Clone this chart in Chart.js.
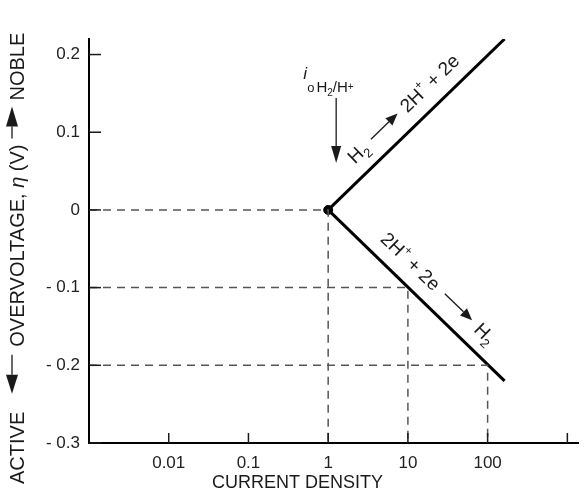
<!DOCTYPE html>
<html lang="en">
<head>
  <meta charset="UTF-8">
  <title>Overvoltage vs current density</title>
  <style>
    body { margin: 0; background: #fff; }
    #wrap { width: 584px; height: 495px; }
  </style>
  <script src="https://cdn.jsdelivr.net/npm/chart.js"></script>
</head>
<body>
  <div id="wrap"><canvas id="chart"></canvas></div>

  <script>
    // data
    var currentDensity = [1, 163];
    var anodicEta = [0, 0.22];     // H2 -> 2H+ + 2e
    var cathodicEta = [0, -0.22];  // 2H+ + 2e -> H2
    var exchangeCurrent = [1];
    var exchangeEta = [0];
    var guideCurrents = [1, 10, 100];
    var guideEta = [0, -0.1, -0.2];
    var xTicks = [0.01, 0.1, 1, 10, 100, 1000];
    var xTickLabels = ['0.01', '0.1', '1', '10', '100', ''];
    var yTicks = [0.2, 0.1, 0, -0.1, -0.2, -0.3];
    var yTickLabels = ['0.2', '0.1', '0', '- 0.1', '- 0.2', '- 0.3'];
    var xMin = 0.001, xMax = 1380, yMin = -0.3, yMax = 0.22;

    var FONT = '"Liberation Sans", Arial, Helvetica, sans-serif';
    var INK = '#1a1a1a';

    function pts(xs, ys) {
      return xs.map(function (x, i) { return { x: x, y: ys[i] }; });
    }

    var datasets = [];
    guideCurrents.forEach(function (c, i) {
      datasets.push({
        data: pts([xMin, c, c], [guideEta[i], guideEta[i], yMin]),
        showLine: true, borderColor: '#555', borderWidth: 1.5,
        borderDash: [8, 6], pointRadius: 0, fill: false
      });
    });
    datasets.push({
      data: pts(currentDensity, anodicEta),
      showLine: true, borderColor: '#000', borderWidth: 3, pointRadius: 0
    });
    datasets.push({
      data: pts(currentDensity, cathodicEta),
      showLine: true, borderColor: '#000', borderWidth: 3, pointRadius: 0
    });
    datasets.push({
      data: pts(exchangeCurrent, exchangeEta),
      showLine: false, pointRadius: 4.5, pointBackgroundColor: '#000',
      pointBorderColor: '#000'
    });

    // draws text pieces one after another along the current baseline
    function run(ctx, parts, x, y) {
      parts.forEach(function (p) {
        if (p.arrow) {
          var len = p.arrow, hl = p.head || 10, hw = p.hw || 4, ay = y + (p.dy || -6);
          ctx.beginPath();
          if (p.left) {
            ctx.moveTo(x + hl, ay); ctx.lineTo(x + len, ay);
          } else {
            ctx.moveTo(x, ay); ctx.lineTo(x + len - hl, ay);
          }
          ctx.lineWidth = p.lw || 1.3; ctx.strokeStyle = INK; ctx.stroke();
          ctx.beginPath();
          if (p.left) {
            ctx.moveTo(x, ay); ctx.lineTo(x + hl, ay - hw); ctx.lineTo(x + hl, ay + hw);
          } else {
            ctx.moveTo(x + len, ay); ctx.lineTo(x + len - hl, ay - hw); ctx.lineTo(x + len - hl, ay + hw);
          }
          ctx.closePath(); ctx.fillStyle = INK; ctx.fill();
          x += len;
        } else if (p.gap) {
          x += p.gap;
        } else {
          ctx.font = (p.style || '') + ' ' + p.f + 'px ' + FONT;
          ctx.fillStyle = INK;
          ctx.fillText(p.t, x, y + (p.dy || 0));
          x += ctx.measureText(p.t).width;
        }
      });
      return x;
    }

    var notes = {
      id: 'notes',
      afterDraw: function (chart) {
        var ctx = chart.ctx, xs = chart.scales.x, ys = chart.scales.y, a = chart.chartArea;
        ctx.save();

        // small inward tick marks
        ctx.strokeStyle = INK; ctx.lineWidth = 1.5;
        yTicks.forEach(function (v) {
          var py = ys.getPixelForValue(v);
          ctx.beginPath(); ctx.moveTo(a.left, py); ctx.lineTo(a.left + 12, py); ctx.stroke();
        });
        xTicks.forEach(function (v) {
          var px = xs.getPixelForValue(v);
          ctx.beginPath(); ctx.moveTo(px, a.bottom); ctx.lineTo(px, a.bottom - 10); ctx.stroke();
        });

        ctx.textBaseline = 'alphabetic';
        ctx.textAlign = 'left';

        var p0x = xs.getPixelForValue(currentDensity[0]);
        var p0y = ys.getPixelForValue(anodicEta[0]);

        // reaction labels along the two lines
        [[anodicEta, 51, [
          { t: 'H', f: 19 }, { t: '2', f: 13, dy: 5 }, { gap: 8 },
          { arrow: 37, head: 12, hw: 5, dy: -7 }, { gap: 7 },
          { t: '2H', f: 19 }, { t: '+', f: 12, dy: -9 }, { t: ' + 2e', f: 19 }
        ]], [cathodicEta, 58, [
          { t: '2H', f: 19 }, { t: '+', f: 12, dy: -9 }, { t: ' + 2e', f: 19 }, { gap: 10 },
          { arrow: 38, head: 12, hw: 5, dy: -7 }, { gap: 8 },
          { t: 'H', f: 19 }, { t: '2', f: 13, dy: 5 }
        ]]].forEach(function (item) {
          var p1x = xs.getPixelForValue(currentDensity[1]);
          var p1y = ys.getPixelForValue(item[0][1]);
          ctx.save();
          ctx.translate(p0x, p0y);
          ctx.rotate(Math.atan2(p1y - p0y, p1x - p0x));
          run(ctx, item[2], item[1], -14);
          ctx.restore();
        });

        // exchange current density label and arrow
        run(ctx, [{ t: 'i', f: 17, style: 'italic' }], p0x - 25, 79);
        run(ctx, [{ t: 'o', f: 13 }, { gap: 2 }, { t: 'H', f: 15 }, { t: '2', f: 10, dy: 4 },
                  { t: '/H', f: 15 }, { t: '+', f: 10, dy: -2 }], p0x - 21, 92);
        ctx.save();
        ctx.translate(p0x + 2, p0y - 112);
        ctx.rotate(Math.PI / 2);
        run(ctx, [{ arrow: 65, head: 17, hw: 5, dy: 0, lw: 1.3 }], 0, 0);
        ctx.restore();

        // x axis title
        ctx.textBaseline = 'middle';
        run(ctx, [{ t: 'CURRENT DENSITY', f: 18 }], a.left + 123, 483);

        // y axis title, read bottom to top
        ctx.save();
        ctx.translate(18, 484);
        ctx.rotate(-Math.PI / 2);
        run(ctx, [
          { t: 'ACTIVE', f: 20 }, { gap: 18 },
          { arrow: 39, head: 19, hw: 6, left: true, dy: 0 }, { gap: 8 },
          { t: 'OVERVOLTAGE, ', f: 20 }, { t: '\u03b7', f: 20, style: 'italic' }, { t: ' (V)', f: 20 },
          { gap: 6 }, { arrow: 32, head: 20, hw: 6, dy: 0 }, { gap: 6 },
          { t: 'NOBLE', f: 20 }
        ], 0, 0);
        ctx.restore();

        ctx.restore();
      }
    };

    new Chart(document.getElementById('chart'), {
      type: 'scatter',
      data: { datasets: datasets },
      options: {
        responsive: true,
        maintainAspectRatio: false,
        animation: false,
        devicePixelRatio: 1,
        layout: { padding: { top: 39, right: 0, left: 0, bottom: 0 } },
        plugins: { legend: { display: false }, tooltip: { enabled: false } },
        scales: {
          x: {
            type: 'logarithmic', min: xMin, max: xMax,
            afterFit: function (s) { s.height = 52; },
            afterBuildTicks: function (s) { s.ticks = xTicks.map(function (v) { return { value: v }; }); },
            grid: { display: false, drawTicks: false },
            border: { display: true, color: '#000', width: 2 },
            ticks: {
              padding: 10, color: '#222', autoSkip: false, maxRotation: 0,
              font: { family: FONT, size: 17 },
              callback: function (v) { return xTickLabels[xTicks.indexOf(v)]; }
            }
          },
          y: {
            min: yMin, max: yMax,
            afterFit: function (s) { s.width = 89; },
            afterBuildTicks: function (s) { s.ticks = yTicks.map(function (v) { return { value: v }; }); },
            grid: { display: false, drawTicks: false },
            border: { display: true, color: '#000', width: 2 },
            ticks: {
              padding: 9, color: '#222', autoSkip: false,
              font: { family: FONT, size: 17 },
              callback: function (v) { return yTickLabels[yTicks.indexOf(v)]; }
            }
          }
        }
      },
      plugins: [notes]
    });
  </script>
</body>
</html>
